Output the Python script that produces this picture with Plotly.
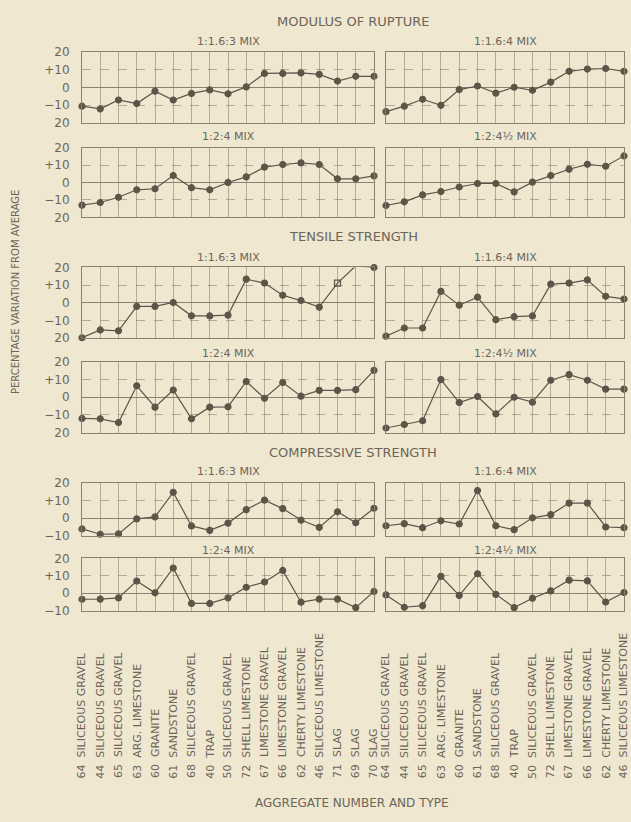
import plotly.graph_objects as go

# ---------------------------------------------------------------- data
left_numbers = [64, 44, 65, 63, 60, 61, 68, 40, 50, 72, 67, 66, 62, 46, 71, 69, 70]
left_types = ["SILICEOUS GRAVEL", "SILICEOUS GRAVEL", "SILICEOUS GRAVEL", "ARG. LIMESTONE",
              "GRANITE", "SANDSTONE", "SILICEOUS GRAVEL", "TRAP", "SILICEOUS GRAVEL",
              "SHELL LIMESTONE", "LIMESTONE GRAVEL", "LIMESTONE GRAVEL", "CHERTY LIMESTONE",
              "SILICEOUS LIMESTONE", "SLAG", "SLAG", "SLAG"]
right_numbers = [64, 44, 65, 63, 60, 61, 68, 40, 50, 72, 67, 66, 62, 46]
right_types = ["SILICEOUS GRAVEL", "SILICEOUS GRAVEL", "SILICEOUS GRAVEL", "ARG. LIMESTONE",
               "GRANITE", "SANDSTONE", "SILICEOUS GRAVEL", "TRAP", "SILICEOUS GRAVEL",
               "SHELL LIMESTONE", "LIMESTONE GRAVEL", "LIMESTONE GRAVEL", "CHERTY LIMESTONE",
               "SILICEOUS LIMESTONE"]

section_titles = ["MODULUS OF RUPTURE", "TENSILE STRENGTH", "COMPRESSIVE STRENGTH"]
left_mixes = ["1:1.6:3 MIX", "1:2:4 MIX"]
right_mixes = ["1:1.6:4 MIX", "1:2:4\u00bd MIX"]

# percentage variation from average
mr_1163 = [-10.5, -12, -7, -9, -2, -7, -3.3, -1.3, -3.5, 0.4, 8, 8, 8.3, 7.5, 3.7, 6.4, 6.4]
mr_1164 = [-13.6, -10.5, -6.6, -10, -1.1, 0.9, -3.1, 0.2, -1.5, 3.1, 9.2, 10.5, 10.8, 9.2]
mr_124 = [-13, -11.5, -8.5, -4.2, -3.6, 4, -3, -4.2, 0, 3.2, 8.8, 10.3, 11.2, 10.3, 2.1, 2.1, 3.8]
mr_1245 = [-13.2, -11.1, -7.1, -5.2, -2.6, -0.6, -0.6, -5.4, 0.2, 4, 7.6, 10.4, 9.3, 15.2]

ts_1163 = [-19.7, -15.3, -15.8, -2, -2, 0.2, -7.3, -7.4, -6.9, 13.4, 11.2, 4.3, 1.3, -2.4, 11.2, 20.9, 20]
ts_1164 = [-18.8, -14.2, -14.2, 6.5, -1.3, 3.2, -9.5, -7.8, -7.4, 10.6, 11.2, 13, 3.7, 2.2]
ts_124 = [-12, -12.2, -14.3, 6.5, -5.6, 4.1, -12.2, -5.6, -5.4, 8.9, -0.6, 8.3, 0.6, 3.9, 3.9, 4.3, 15.2]
ts_1245 = [-17.4, -15.4, -13.3, 10, -3, 0.4, -9.4, 0, -2.8, 9.6, 12.8, 9.6, 4.6, 4.6]

cs_1163 = [-6.1, -9.1, -8.9, -0.4, 0.7, 14.6, -4.4, -6.9, -2.8, 4.8, 10.2, 5.4, -1.1, -5.2, 3.6, -2.6, 5.6]
cs_1164 = [-4.3, -3.1, -5.4, -1.5, -3.3, 15.6, -4.3, -6.5, 0.2, 2, 8.5, 8.5, -5, -5.4]
cs_124 = [-3.5, -3.4, -2.7, 7, 0.2, 14.5, -5.9, -5.9, -2.7, 3.4, 6.4, 13.1, -5.2, -3.4, -3.4, -8.3, 1]
cs_1245 = [-1, -8.1, -7.2, 9.7, -1.3, 11.2, -0.7, -8.3, -2.9, 1.3, 7.5, 7.1, -5.1, 0.4]

section_series = [
    [[mr_1163, mr_1164], [mr_124, mr_1245]],
    [[ts_1163, ts_1164], [ts_124, ts_1245]],
    [[cs_1163, cs_1164], [cs_124, cs_1245]],
]

y_ranges = [(-20, 20), (-20, 20), (-10, 20)]
y_tickvals = [[-20, -10, 0, 10, 20], [-20, -10, 0, 10, 20], [-10, 0, 10, 20]]
y_ticktext = [["20", "\u221210", "0", "+10", "20"],
              ["20", "\u221210", "0", "+10", "20"],
              ["\u221210", "0", "+10", "20"]]

# ---------------------------------------------------------------- layout (pixels)
W, H = 631, 822
BG = "#efe7d0"
INK = "#5d5548"
TEXT = "#6c6559"
FRAME = "#8a8171"
GRID = "rgba(120,110,95,0.5)"
FONT = "DejaVu Sans"

left_px = (82, 374)
right_px = (386, 624)
panel_rows_px = [[(46, 118), (143, 214)], [(265, 337), (361, 433)], [(484, 538), (561, 614)]]
section_title_py = [15, 233, 453]
subtitle_py = [[35, 132], [255, 352], [473, 553]]
label_base_py = 787


def px_x(p):
    return p / W


def px_y(p):
    return 1 - p / H


def text_note(text, x, y, size, angle=0):
    return dict(text=text, x=px_x(x), y=px_y(y), xref="paper", yref="paper",
                xanchor="center", yanchor="middle", showarrow=False,
                textangle=angle, font=dict(family=FONT, size=size, color=TEXT))


fig = go.Figure()
layout = {}
annotations = []

for s in range(3):
    annotations.append(text_note(section_titles[s], 353, section_title_py[s], 13))
    for r in range(2):
        top, bot = panel_rows_px[s][r]
        for c in range(2):
            k = s * 4 + r * 2 + c + 1
            xs = "" if k == 1 else str(k)
            vals = section_series[s][r][c]
            xpx = left_px if c == 0 else right_px
            n = len(vals)

            symbols = ["circle"] * n
            if s == 1 and r == 0 and c == 0:
                symbols[14] = "square-open"

            fig.add_trace(go.Scatter(
                x=list(range(n)), y=vals, mode="lines+markers",
                line=dict(color=INK, width=1.2),
                marker=dict(size=6, color=INK, symbol=symbols,
                            line=dict(color=INK, width=1.2)),
                xaxis="x" + xs, yaxis="y" + xs, cliponaxis=False,
                showlegend=False, hoverinfo="skip"))

            layout["xaxis" + xs] = dict(
                domain=[px_x(xpx[0]), px_x(xpx[1])], anchor="y" + xs,
                range=[0, n - 1], tick0=0, dtick=1, showticklabels=False,
                showgrid=True, gridcolor=GRID, gridwidth=0.8,
                zeroline=False, showline=True, mirror=True,
                linecolor=FRAME, linewidth=1, ticks="", fixedrange=True)
            layout["yaxis" + xs] = dict(
                domain=[px_y(bot), px_y(top)], anchor="x" + xs,
                range=list(y_ranges[s]), tickvals=y_tickvals[s],
                ticktext=y_ticktext[s], showticklabels=(c == 0),
                tickfont=dict(family=FONT, size=12, color=TEXT),
                ticks="outside", ticklen=9, tickcolor="rgba(0,0,0,0)",
                showgrid=True, gridcolor=GRID, gridwidth=0.8, griddash="dash",
                zeroline=True, zerolinecolor=FRAME, zerolinewidth=1.1,
                showline=True, mirror=True, linecolor=FRAME, linewidth=1,
                fixedrange=True)

            mix = left_mixes[r] if c == 0 else right_mixes[r]
            annotations.append(text_note(mix, (xpx[0] + xpx[1]) / 2,
                                         subtitle_py[s][r], 11))

# aggregate labels under the bottom panels
for nums, types, xref in ((left_numbers, left_types, "x11"),
                          (right_numbers, right_types, "x12")):
    for i, (num, kind) in enumerate(zip(nums, types)):
        annotations.append(dict(
            text=f"{num}\u00a0\u00a0{kind}", x=i, xref=xref,
            y=px_y(label_base_py), yref="paper",
            textangle=-90, xanchor="center", yanchor="bottom",
            showarrow=False, font=dict(family=FONT, size=11, color=TEXT)))

annotations.append(text_note("AGGREGATE NUMBER AND TYPE", 352, 810, 12))
annotations.append(text_note("PERCENTAGE VARIATION FROM AVERAGE", 15, 290, 10, angle=-90))

fig.update_layout(
    width=W, height=H, margin=dict(l=0, r=0, t=0, b=0),
    paper_bgcolor=BG, plot_bgcolor=BG,
    annotations=annotations, **layout)

fig.write_html("out.html", config={"displayModeBar": False})
